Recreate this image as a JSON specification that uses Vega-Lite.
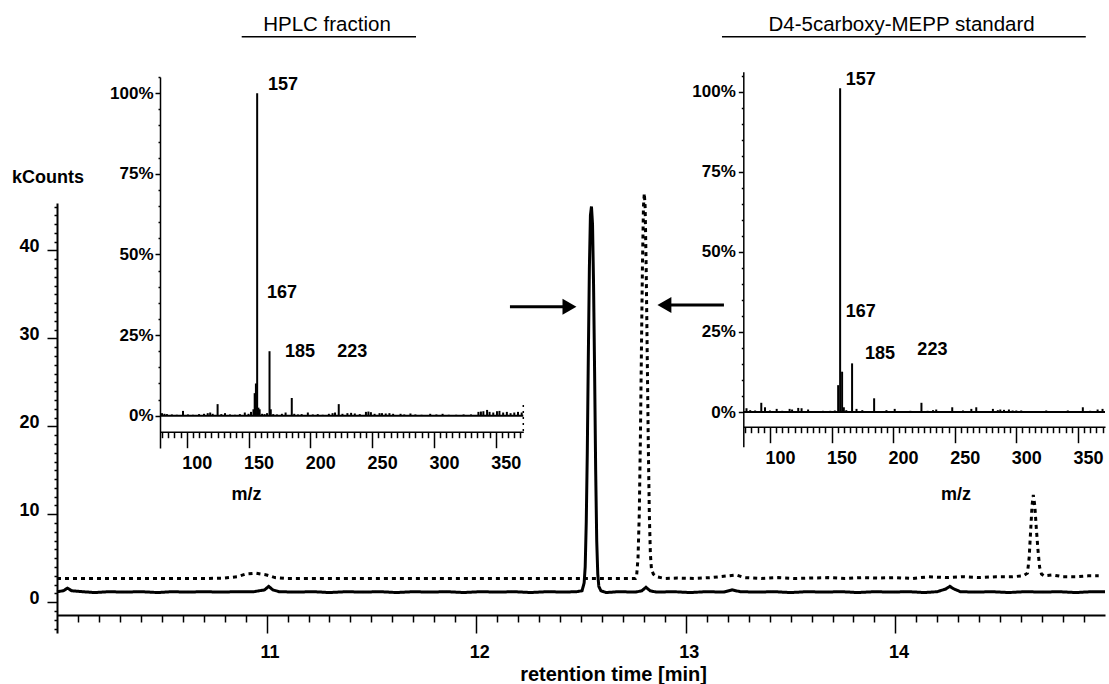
{
  "$schema": "https://vega.github.io/schema/vega-lite/v6.json",
  "width": 1048,
  "height": 615,
  "autosize": {"type": "none"},
  "padding": {"left": 57, "top": 0, "right": 4, "bottom": 69},
  "background": "white",
  "config": {
    "view": {"stroke": null},
    "font": "Liberation Sans",
    "axis": {
      "grid": false,
      "domainColor": "black",
      "tickColor": "black",
      "labelColor": "black",
      "titleColor": "black",
      "labelFont": "Liberation Sans",
      "titleFont": "Liberation Sans",
      "labelFontWeight": "bold",
      "titleFontWeight": "bold",
      "labelFontSize": 18,
      "titleFontSize": 18,
      "domainWidth": 1.5,
      "tickWidth": 1.5,
      "labelOverlap": false,
      "labelFlush": false,
      "labelBound": false
    }
  },
  "datasets": {
    "chrom": [
      {"series": "HPLC fraction", "rt": 10.00, "kc": 1.2},
      {"series": "HPLC fraction", "rt": 10.03, "kc": 1.3},
      {"series": "HPLC fraction", "rt": 10.05, "kc": 1.6},
      {"series": "HPLC fraction", "rt": 10.07, "kc": 1.3},
      {"series": "HPLC fraction", "rt": 10.12, "kc": 1.2},
      {"series": "HPLC fraction", "rt": 10.18, "kc": 1.1},
      {"series": "HPLC fraction", "rt": 10.25, "kc": 1.2},
      {"series": "HPLC fraction", "rt": 10.32, "kc": 1.15},
      {"series": "HPLC fraction", "rt": 10.40, "kc": 1.2},
      {"series": "HPLC fraction", "rt": 10.48, "kc": 1.1},
      {"series": "HPLC fraction", "rt": 10.55, "kc": 1.2},
      {"series": "HPLC fraction", "rt": 10.62, "kc": 1.15},
      {"series": "HPLC fraction", "rt": 10.70, "kc": 1.2},
      {"series": "HPLC fraction", "rt": 10.78, "kc": 1.15},
      {"series": "HPLC fraction", "rt": 10.86, "kc": 1.2},
      {"series": "HPLC fraction", "rt": 10.94, "kc": 1.2},
      {"series": "HPLC fraction", "rt": 10.99, "kc": 1.4},
      {"series": "HPLC fraction", "rt": 11.01, "kc": 1.8},
      {"series": "HPLC fraction", "rt": 11.03, "kc": 1.4},
      {"series": "HPLC fraction", "rt": 11.06, "kc": 1.2},
      {"series": "HPLC fraction", "rt": 11.14, "kc": 1.15},
      {"series": "HPLC fraction", "rt": 11.22, "kc": 1.2},
      {"series": "HPLC fraction", "rt": 11.30, "kc": 1.1},
      {"series": "HPLC fraction", "rt": 11.38, "kc": 1.2},
      {"series": "HPLC fraction", "rt": 11.46, "kc": 1.15},
      {"series": "HPLC fraction", "rt": 11.54, "kc": 1.2},
      {"series": "HPLC fraction", "rt": 11.62, "kc": 1.1},
      {"series": "HPLC fraction", "rt": 11.70, "kc": 1.2},
      {"series": "HPLC fraction", "rt": 11.78, "kc": 1.15},
      {"series": "HPLC fraction", "rt": 11.86, "kc": 1.2},
      {"series": "HPLC fraction", "rt": 11.94, "kc": 1.1},
      {"series": "HPLC fraction", "rt": 12.02, "kc": 1.2},
      {"series": "HPLC fraction", "rt": 12.10, "kc": 1.15},
      {"series": "HPLC fraction", "rt": 12.18, "kc": 1.2},
      {"series": "HPLC fraction", "rt": 12.26, "kc": 1.1},
      {"series": "HPLC fraction", "rt": 12.34, "kc": 1.2},
      {"series": "HPLC fraction", "rt": 12.42, "kc": 1.15},
      {"series": "HPLC fraction", "rt": 12.48, "kc": 1.2},
      {"series": "HPLC fraction", "rt": 12.505, "kc": 1.3},
      {"series": "HPLC fraction", "rt": 12.515, "kc": 2.2},
      {"series": "HPLC fraction", "rt": 12.52, "kc": 4},
      {"series": "HPLC fraction", "rt": 12.525, "kc": 9},
      {"series": "HPLC fraction", "rt": 12.53, "kc": 17},
      {"series": "HPLC fraction", "rt": 12.535, "kc": 28},
      {"series": "HPLC fraction", "rt": 12.54, "kc": 38},
      {"series": "HPLC fraction", "rt": 12.545, "kc": 44},
      {"series": "HPLC fraction", "rt": 12.55, "kc": 45},
      {"series": "HPLC fraction", "rt": 12.555, "kc": 43},
      {"series": "HPLC fraction", "rt": 12.56, "kc": 36},
      {"series": "HPLC fraction", "rt": 12.565, "kc": 26},
      {"series": "HPLC fraction", "rt": 12.57, "kc": 15},
      {"series": "HPLC fraction", "rt": 12.575, "kc": 7},
      {"series": "HPLC fraction", "rt": 12.58, "kc": 3.2},
      {"series": "HPLC fraction", "rt": 12.585, "kc": 1.8},
      {"series": "HPLC fraction", "rt": 12.595, "kc": 1.3},
      {"series": "HPLC fraction", "rt": 12.62, "kc": 1.1},
      {"series": "HPLC fraction", "rt": 12.68, "kc": 1.2},
      {"series": "HPLC fraction", "rt": 12.76, "kc": 1.15},
      {"series": "HPLC fraction", "rt": 12.79, "kc": 1.3},
      {"series": "HPLC fraction", "rt": 12.81, "kc": 1.7},
      {"series": "HPLC fraction", "rt": 12.83, "kc": 1.3},
      {"series": "HPLC fraction", "rt": 12.86, "kc": 1.15},
      {"series": "HPLC fraction", "rt": 12.94, "kc": 1.2},
      {"series": "HPLC fraction", "rt": 13.02, "kc": 1.1},
      {"series": "HPLC fraction", "rt": 13.10, "kc": 1.2},
      {"series": "HPLC fraction", "rt": 13.18, "kc": 1.15},
      {"series": "HPLC fraction", "rt": 13.22, "kc": 1.4},
      {"series": "HPLC fraction", "rt": 13.26, "kc": 1.2},
      {"series": "HPLC fraction", "rt": 13.34, "kc": 1.15},
      {"series": "HPLC fraction", "rt": 13.42, "kc": 1.2},
      {"series": "HPLC fraction", "rt": 13.50, "kc": 1.1},
      {"series": "HPLC fraction", "rt": 13.58, "kc": 1.2},
      {"series": "HPLC fraction", "rt": 13.66, "kc": 1.15},
      {"series": "HPLC fraction", "rt": 13.74, "kc": 1.2},
      {"series": "HPLC fraction", "rt": 13.82, "kc": 1.1},
      {"series": "HPLC fraction", "rt": 13.90, "kc": 1.2},
      {"series": "HPLC fraction", "rt": 13.98, "kc": 1.15},
      {"series": "HPLC fraction", "rt": 14.06, "kc": 1.2},
      {"series": "HPLC fraction", "rt": 14.14, "kc": 1.1},
      {"series": "HPLC fraction", "rt": 14.20, "kc": 1.2},
      {"series": "HPLC fraction", "rt": 14.24, "kc": 1.5},
      {"series": "HPLC fraction", "rt": 14.26, "kc": 1.8},
      {"series": "HPLC fraction", "rt": 14.28, "kc": 1.5},
      {"series": "HPLC fraction", "rt": 14.31, "kc": 1.2},
      {"series": "HPLC fraction", "rt": 14.38, "kc": 1.15},
      {"series": "HPLC fraction", "rt": 14.46, "kc": 1.2},
      {"series": "HPLC fraction", "rt": 14.54, "kc": 1.1},
      {"series": "HPLC fraction", "rt": 14.62, "kc": 1.2},
      {"series": "HPLC fraction", "rt": 14.70, "kc": 1.15},
      {"series": "HPLC fraction", "rt": 14.78, "kc": 1.2},
      {"series": "HPLC fraction", "rt": 14.86, "kc": 1.1},
      {"series": "HPLC fraction", "rt": 14.94, "kc": 1.2},
      {"series": "HPLC fraction", "rt": 15.00, "kc": 1.2},
      {"series": "D4-5carboxy-MEPP standard", "rt": 10.00, "kc": 2.7},
      {"series": "D4-5carboxy-MEPP standard", "rt": 10.08, "kc": 2.7},
      {"series": "D4-5carboxy-MEPP standard", "rt": 10.16, "kc": 2.7},
      {"series": "D4-5carboxy-MEPP standard", "rt": 10.24, "kc": 2.7},
      {"series": "D4-5carboxy-MEPP standard", "rt": 10.32, "kc": 2.7},
      {"series": "D4-5carboxy-MEPP standard", "rt": 10.40, "kc": 2.7},
      {"series": "D4-5carboxy-MEPP standard", "rt": 10.48, "kc": 2.7},
      {"series": "D4-5carboxy-MEPP standard", "rt": 10.56, "kc": 2.7},
      {"series": "D4-5carboxy-MEPP standard", "rt": 10.64, "kc": 2.7},
      {"series": "D4-5carboxy-MEPP standard", "rt": 10.72, "kc": 2.7},
      {"series": "D4-5carboxy-MEPP standard", "rt": 10.80, "kc": 2.75},
      {"series": "D4-5carboxy-MEPP standard", "rt": 10.86, "kc": 2.9},
      {"series": "D4-5carboxy-MEPP standard", "rt": 10.90, "kc": 3.2},
      {"series": "D4-5carboxy-MEPP standard", "rt": 10.95, "kc": 3.3},
      {"series": "D4-5carboxy-MEPP standard", "rt": 11.00, "kc": 3.1},
      {"series": "D4-5carboxy-MEPP standard", "rt": 11.04, "kc": 2.8},
      {"series": "D4-5carboxy-MEPP standard", "rt": 11.10, "kc": 2.7},
      {"series": "D4-5carboxy-MEPP standard", "rt": 11.20, "kc": 2.7},
      {"series": "D4-5carboxy-MEPP standard", "rt": 11.30, "kc": 2.7},
      {"series": "D4-5carboxy-MEPP standard", "rt": 11.40, "kc": 2.7},
      {"series": "D4-5carboxy-MEPP standard", "rt": 11.50, "kc": 2.7},
      {"series": "D4-5carboxy-MEPP standard", "rt": 11.60, "kc": 2.7},
      {"series": "D4-5carboxy-MEPP standard", "rt": 11.70, "kc": 2.7},
      {"series": "D4-5carboxy-MEPP standard", "rt": 11.80, "kc": 2.7},
      {"series": "D4-5carboxy-MEPP standard", "rt": 11.90, "kc": 2.7},
      {"series": "D4-5carboxy-MEPP standard", "rt": 12.00, "kc": 2.7},
      {"series": "D4-5carboxy-MEPP standard", "rt": 12.10, "kc": 2.7},
      {"series": "D4-5carboxy-MEPP standard", "rt": 12.20, "kc": 2.7},
      {"series": "D4-5carboxy-MEPP standard", "rt": 12.30, "kc": 2.7},
      {"series": "D4-5carboxy-MEPP standard", "rt": 12.40, "kc": 2.7},
      {"series": "D4-5carboxy-MEPP standard", "rt": 12.50, "kc": 2.7},
      {"series": "D4-5carboxy-MEPP standard", "rt": 12.60, "kc": 2.7},
      {"series": "D4-5carboxy-MEPP standard", "rt": 12.70, "kc": 2.7},
      {"series": "D4-5carboxy-MEPP standard", "rt": 12.76, "kc": 2.7},
      {"series": "D4-5carboxy-MEPP standard", "rt": 12.765, "kc": 2.9},
      {"series": "D4-5carboxy-MEPP standard", "rt": 12.772, "kc": 5},
      {"series": "D4-5carboxy-MEPP standard", "rt": 12.778, "kc": 10},
      {"series": "D4-5carboxy-MEPP standard", "rt": 12.783, "kc": 18},
      {"series": "D4-5carboxy-MEPP standard", "rt": 12.788, "kc": 28},
      {"series": "D4-5carboxy-MEPP standard", "rt": 12.793, "kc": 38},
      {"series": "D4-5carboxy-MEPP standard", "rt": 12.798, "kc": 45},
      {"series": "D4-5carboxy-MEPP standard", "rt": 12.802, "kc": 46.5},
      {"series": "D4-5carboxy-MEPP standard", "rt": 12.806, "kc": 45},
      {"series": "D4-5carboxy-MEPP standard", "rt": 12.811, "kc": 38},
      {"series": "D4-5carboxy-MEPP standard", "rt": 12.816, "kc": 28},
      {"series": "D4-5carboxy-MEPP standard", "rt": 12.821, "kc": 18},
      {"series": "D4-5carboxy-MEPP standard", "rt": 12.826, "kc": 10},
      {"series": "D4-5carboxy-MEPP standard", "rt": 12.831, "kc": 5.5},
      {"series": "D4-5carboxy-MEPP standard", "rt": 12.836, "kc": 3.8},
      {"series": "D4-5carboxy-MEPP standard", "rt": 12.845, "kc": 3.2},
      {"series": "D4-5carboxy-MEPP standard", "rt": 12.86, "kc": 2.9},
      {"series": "D4-5carboxy-MEPP standard", "rt": 12.90, "kc": 2.7},
      {"series": "D4-5carboxy-MEPP standard", "rt": 12.96, "kc": 2.75},
      {"series": "D4-5carboxy-MEPP standard", "rt": 13.04, "kc": 2.7},
      {"series": "D4-5carboxy-MEPP standard", "rt": 13.12, "kc": 2.8},
      {"series": "D4-5carboxy-MEPP standard", "rt": 13.20, "kc": 3.0},
      {"series": "D4-5carboxy-MEPP standard", "rt": 13.24, "kc": 3.1},
      {"series": "D4-5carboxy-MEPP standard", "rt": 13.28, "kc": 2.8},
      {"series": "D4-5carboxy-MEPP standard", "rt": 13.36, "kc": 2.7},
      {"series": "D4-5carboxy-MEPP standard", "rt": 13.44, "kc": 2.8},
      {"series": "D4-5carboxy-MEPP standard", "rt": 13.52, "kc": 2.7},
      {"series": "D4-5carboxy-MEPP standard", "rt": 13.60, "kc": 2.75},
      {"series": "D4-5carboxy-MEPP standard", "rt": 13.68, "kc": 2.8},
      {"series": "D4-5carboxy-MEPP standard", "rt": 13.76, "kc": 2.7},
      {"series": "D4-5carboxy-MEPP standard", "rt": 13.84, "kc": 2.8},
      {"series": "D4-5carboxy-MEPP standard", "rt": 13.92, "kc": 2.75},
      {"series": "D4-5carboxy-MEPP standard", "rt": 14.00, "kc": 2.8},
      {"series": "D4-5carboxy-MEPP standard", "rt": 14.08, "kc": 2.7},
      {"series": "D4-5carboxy-MEPP standard", "rt": 14.16, "kc": 2.9},
      {"series": "D4-5carboxy-MEPP standard", "rt": 14.24, "kc": 2.8},
      {"series": "D4-5carboxy-MEPP standard", "rt": 14.32, "kc": 2.9},
      {"series": "D4-5carboxy-MEPP standard", "rt": 14.40, "kc": 2.8},
      {"series": "D4-5carboxy-MEPP standard", "rt": 14.48, "kc": 2.9},
      {"series": "D4-5carboxy-MEPP standard", "rt": 14.56, "kc": 2.9},
      {"series": "D4-5carboxy-MEPP standard", "rt": 14.61, "kc": 3.0},
      {"series": "D4-5carboxy-MEPP standard", "rt": 14.630, "kc": 3.3},
      {"series": "D4-5carboxy-MEPP standard", "rt": 14.638, "kc": 5},
      {"series": "D4-5carboxy-MEPP standard", "rt": 14.645, "kc": 8},
      {"series": "D4-5carboxy-MEPP standard", "rt": 14.652, "kc": 11},
      {"series": "D4-5carboxy-MEPP standard", "rt": 14.658, "kc": 12.2},
      {"series": "D4-5carboxy-MEPP standard", "rt": 14.665, "kc": 11},
      {"series": "D4-5carboxy-MEPP standard", "rt": 14.672, "kc": 8.5},
      {"series": "D4-5carboxy-MEPP standard", "rt": 14.68, "kc": 6},
      {"series": "D4-5carboxy-MEPP standard", "rt": 14.688, "kc": 4},
      {"series": "D4-5carboxy-MEPP standard", "rt": 14.697, "kc": 3.2},
      {"series": "D4-5carboxy-MEPP standard", "rt": 14.71, "kc": 3.0},
      {"series": "D4-5carboxy-MEPP standard", "rt": 14.75, "kc": 3.1},
      {"series": "D4-5carboxy-MEPP standard", "rt": 14.80, "kc": 2.9},
      {"series": "D4-5carboxy-MEPP standard", "rt": 14.86, "kc": 2.9},
      {"series": "D4-5carboxy-MEPP standard", "rt": 14.92, "kc": 3.0},
      {"series": "D4-5carboxy-MEPP standard", "rt": 14.97, "kc": 3.0}
    ],
    "arrows": [
      {"dir": "right", "rt": 12.161, "rt2": 12.44, "head": 12.445, "kc": 33.6},
      {"dir": "left", "rt": 12.9, "rt2": 13.182, "head": 12.898, "kc": 33.8}
    ],
    "spec1": [
      {"mz": 80, "pct": 0.8}, {"mz": 82, "pct": 0.6}, {"mz": 84, "pct": 0.5}, {"mz": 88, "pct": 0.4},
      {"mz": 92, "pct": 0.3}, {"mz": 97, "pct": 1.5}, {"mz": 101, "pct": 0.4}, {"mz": 105, "pct": 0.3},
      {"mz": 110, "pct": 0.5}, {"mz": 114, "pct": 0.6}, {"mz": 117, "pct": 0.8}, {"mz": 119, "pct": 1.0},
      {"mz": 121, "pct": 0.6}, {"mz": 125, "pct": 3.6}, {"mz": 128, "pct": 0.5}, {"mz": 131, "pct": 0.8},
      {"mz": 135, "pct": 0.4}, {"mz": 139, "pct": 0.3}, {"mz": 143, "pct": 0.5}, {"mz": 147, "pct": 1.0},
      {"mz": 150, "pct": 0.6}, {"mz": 152, "pct": 1.2}, {"mz": 154, "pct": 2.0}, {"mz": 155, "pct": 7.0},
      {"mz": 156, "pct": 10.0}, {"mz": 157, "pct": 100}, {"mz": 158, "pct": 2.5}, {"mz": 159, "pct": 2.0},
      {"mz": 161, "pct": 0.6}, {"mz": 163, "pct": 0.5}, {"mz": 165, "pct": 0.8}, {"mz": 167, "pct": 20},
      {"mz": 168, "pct": 2.0}, {"mz": 170, "pct": 0.5}, {"mz": 173, "pct": 0.4}, {"mz": 177, "pct": 0.6},
      {"mz": 180, "pct": 1.0}, {"mz": 185, "pct": 5.5}, {"mz": 187, "pct": 0.6}, {"mz": 190, "pct": 0.4},
      {"mz": 193, "pct": 0.5}, {"mz": 198, "pct": 1.0}, {"mz": 202, "pct": 0.4}, {"mz": 206, "pct": 0.5},
      {"mz": 210, "pct": 0.3}, {"mz": 215, "pct": 0.6}, {"mz": 218, "pct": 0.8}, {"mz": 220, "pct": 1.0},
      {"mz": 223, "pct": 3.6}, {"mz": 226, "pct": 0.6}, {"mz": 230, "pct": 0.8}, {"mz": 233, "pct": 0.9},
      {"mz": 236, "pct": 0.7}, {"mz": 240, "pct": 0.5}, {"mz": 245, "pct": 1.2}, {"mz": 247, "pct": 1.3},
      {"mz": 249, "pct": 1.1}, {"mz": 252, "pct": 0.6}, {"mz": 256, "pct": 0.8}, {"mz": 258, "pct": 0.8},
      {"mz": 261, "pct": 0.7}, {"mz": 264, "pct": 0.8}, {"mz": 267, "pct": 0.6}, {"mz": 273, "pct": 0.6},
      {"mz": 276, "pct": 0.4}, {"mz": 281, "pct": 0.7}, {"mz": 285, "pct": 0.4}, {"mz": 290, "pct": 0.3},
      {"mz": 297, "pct": 0.6}, {"mz": 302, "pct": 0.4}, {"mz": 307, "pct": 0.6}, {"mz": 312, "pct": 0.3},
      {"mz": 318, "pct": 0.3}, {"mz": 324, "pct": 0.4}, {"mz": 330, "pct": 0.4}, {"mz": 336, "pct": 1.2},
      {"mz": 338, "pct": 1.3}, {"mz": 340, "pct": 1.4}, {"mz": 343, "pct": 1.8}, {"mz": 345, "pct": 1.2},
      {"mz": 348, "pct": 1.0}, {"mz": 351, "pct": 1.4}, {"mz": 353, "pct": 1.5}, {"mz": 356, "pct": 1.0},
      {"mz": 359, "pct": 1.2}, {"mz": 362, "pct": 0.8}, {"mz": 365, "pct": 1.0}, {"mz": 368, "pct": 1.2},
      {"mz": 371, "pct": 1.0}
    ],
    "spec2": [
      {"mz": 81, "pct": 1.2}, {"mz": 84, "pct": 0.6}, {"mz": 88, "pct": 0.5}, {"mz": 93, "pct": 2.9},
      {"mz": 96, "pct": 1.5}, {"mz": 100, "pct": 0.5}, {"mz": 105.5, "pct": 1.0}, {"mz": 110, "pct": 0.4},
      {"mz": 116, "pct": 1.0}, {"mz": 118, "pct": 0.8}, {"mz": 123, "pct": 1.3}, {"mz": 125.7, "pct": 1.2},
      {"mz": 131, "pct": 0.8}, {"mz": 137, "pct": 0.3}, {"mz": 143, "pct": 0.4}, {"mz": 149, "pct": 0.4},
      {"mz": 152.7, "pct": 0.5}, {"mz": 155.4, "pct": 8.4}, {"mz": 157, "pct": 101}, {"mz": 158.6, "pct": 12.6},
      {"mz": 160, "pct": 1.5}, {"mz": 162, "pct": 0.6}, {"mz": 166.7, "pct": 15.2}, {"mz": 170.3, "pct": 1.0},
      {"mz": 175, "pct": 0.6}, {"mz": 184.6, "pct": 4.3}, {"mz": 190, "pct": 0.3}, {"mz": 194.6, "pct": 0.6},
      {"mz": 201.3, "pct": 1.0}, {"mz": 207, "pct": 0.3}, {"mz": 214, "pct": 0.4}, {"mz": 223, "pct": 2.9},
      {"mz": 228, "pct": 0.4}, {"mz": 232.4, "pct": 0.6}, {"mz": 235, "pct": 0.8}, {"mz": 241, "pct": 0.3},
      {"mz": 248, "pct": 1.5}, {"mz": 252, "pct": 0.3}, {"mz": 256.7, "pct": 0.5}, {"mz": 263.5, "pct": 1.0},
      {"mz": 267.5, "pct": 1.5}, {"mz": 274, "pct": 0.3}, {"mz": 281, "pct": 1.0}, {"mz": 285, "pct": 0.6},
      {"mz": 287, "pct": 0.8}, {"mz": 290, "pct": 0.7}, {"mz": 294, "pct": 0.8}, {"mz": 297, "pct": 0.5},
      {"mz": 300, "pct": 0.5}, {"mz": 304, "pct": 0.5}, {"mz": 310, "pct": 0.3}, {"mz": 317, "pct": 0.3},
      {"mz": 324.3, "pct": 0.5}, {"mz": 333, "pct": 0.3}, {"mz": 341.8, "pct": 0.5}, {"mz": 348, "pct": 0.3},
      {"mz": 354, "pct": 1.5}, {"mz": 360, "pct": 0.4}, {"mz": 366, "pct": 0.8}, {"mz": 370, "pct": 1.0}
    ],
    "labels1": [
      {"label": "157", "mz": 165.8, "pct": 102.5},
      {"label": "167", "mz": 165.0, "pct": 38.0},
      {"label": "185", "mz": 179.6, "pct": 19.8},
      {"label": "223", "mz": 221.7, "pct": 19.8}
    ],
    "labels2": [
      {"label": "157", "mz": 161.6, "pct": 103.6},
      {"label": "167", "mz": 161.6, "pct": 31.3},
      {"label": "185", "mz": 177.2, "pct": 18.1},
      {"label": "223", "mz": 219.7, "pct": 19.4}
    ],
    "title1": [{"label": "HPLC fraction", "mz": 213.5, "mz2": 144.5, "mz3": 285.5, "pct": 119.2, "pct2": 117.5}],
    "title2": [{"label": "D4-5carboxy-MEPP standard", "mz": 206.9, "mz2": 61.1, "mz3": 356.4, "pct": 118.9, "pct2": 117.1}],
    "base1": [{"mz": 78.4, "mz2": 372.3, "pct": 0}],
    "base2": [{"mz": 78.4, "mz2": 372.0, "pct": 0}],
    "edge1": [{"mz": 372.3, "pct": 3.3, "pct2": -5}]
  },
  "layer": [
    {
      "layer": [
        {
          "data": {"name": "chrom"},
          "mark": {"type": "line", "color": "black", "strokeWidth": 3, "strokeCap": "butt"},
          "encoding": {
            "x": {
              "field": "rt", "type": "quantitative",
              "scale": {"domain": [10, 15], "nice": false, "zero": false},
              "axis": {
                "orient": "bottom",
                "values": [10.1,10.2,10.3,10.4,10.5,10.6,10.7,10.8,10.9,11,11.1,11.2,11.3,11.4,11.5,11.6,11.7,11.8,11.9,12,12.1,12.2,12.3,12.4,12.5,12.6,12.7,12.8,12.9,13,13.1,13.2,13.3,13.4,13.5,13.6,13.7,13.8,13.9,14,14.1,14.2,14.3,14.4,14.5,14.6,14.7,14.8,14.9],
                "tickCount": 1000,
                "tickMinStep": 0.01,
                "tickSize": {"condition": {"test": "datum.value % 1 === 0", "value": 18}, "value": 7},
                "labelExpr": "datum.value % 1 === 0 ? format(datum.value, 'd') : ''",
                "labelOverlap": false,
                "labelPadding": 10,
                "labelOffset": 3,
                "domainWidth": 2,
                "title": "retention time [min]",
                "titleX": 556,
                "titleY": 65,
                "titleAlign": "center",
                "titleBaseline": "alphabetic",
                "titleFontSize": 20
              }
            },
            "y": {
              "field": "kc", "type": "quantitative",
              "scale": {"domain": [-3.5, 45.4], "range": [633, 203], "nice": false, "zero": false},
              "axis": {
                "orient": "left",
                "values": [-3,-2,-1,0,1,2,3,4,5,6,7,8,9,10,11,12,13,14,15,16,17,18,19,20,21,22,23,24,25,26,27,28,29,30,31,32,33,34,35,36,37,38,39,40,41,42,43,44,45],
                "tickCount": 1000,
                "format": "d",
                "tickSize": {"condition": {"test": "datum.value % 10 === 0", "value": 10}, "value": 3},
                "labelExpr": "datum.value % 10 === 0 ? datum.label : ''",
                "labelOverlap": false,
                "labelPadding": 8,
                "labelOffset": -4,
                "domainWidth": 2,
                "title": "kCounts",
                "titleAngle": 0,
                "titleX": -9.5,
                "titleY": 177,
                "titleAlign": "center",
                "titleBaseline": "middle"
              }
            },
            "strokeDash": {
              "field": "series", "type": "nominal",
              "scale": {"domain": ["HPLC fraction", "D4-5carboxy-MEPP standard"], "range": [[1, 0], [4, 4]]},
              "legend": null
            }
          }
        },
        {
          "data": {"name": "arrows"},
          "mark": {"type": "rule", "color": "black", "strokeWidth": 3},
          "encoding": {
            "x": {"field": "rt", "type": "quantitative"},
            "x2": {"field": "rt2"},
            "y": {"field": "kc", "type": "quantitative"}
          }
        },
        {
          "data": {"name": "arrows"},
          "mark": {"type": "point", "filled": true, "color": "black", "opacity": 1, "size": 260},
          "encoding": {
            "x": {"field": "head", "type": "quantitative"},
            "y": {"field": "kc", "type": "quantitative"},
            "shape": {
              "field": "dir", "type": "nominal",
              "scale": {"domain": ["right", "left"], "range": ["triangle-right", "triangle-left"]},
              "legend": null
            }
          }
        }
      ]
    },
    {
      "layer": [
        {
          "data": {"name": "spec1"},
          "mark": {"type": "rule", "color": "black", "strokeWidth": 2},
          "encoding": {
            "x": {
              "field": "mz", "type": "quantitative",
              "scale": {"domain": [78.4, 372.3], "range": [103, 466.3], "nice": false, "zero": false},
              "axis": {
                "orient": "bottom",
                "offset": -183.3,
                "values": [80,85,90,95,100,105,110,115,120,125,130,135,140,145,150,155,160,165,170,175,180,185,190,195,200,205,210,215,220,225,230,235,240,245,250,255,260,265,270,275,280,285,290,295,300,305,310,315,320,325,330,335,340,345,350,355,360,365,370],
                "tickCount": 1000,
                "format": "d",
                "tickSize": {"condition": {"test": "datum.value % 50 === 0", "value": 16}, "value": 6},
                "labelExpr": "datum.value % 50 === 0 ? datum.label : ''",
                "labelOverlap": false,
                "labelPadding": 7,
                "labelOffset": 10,
                "title": "m/z",
                "titleX": 189,
                "titleY": 68,
                "titleAlign": "center",
                "titleBaseline": "alphabetic"
              }
            },
            "y": {
              "field": "pct", "type": "quantitative",
              "scale": {"domain": [-10, 105], "range": [448, 77], "nice": false, "zero": false},
              "axis": {
                "orient": "left",
                "offset": -103,
                "values": [0,5,10,15,20,25,30,35,40,45,50,55,60,65,70,75,80,85,90,95,100,105],
                "tickCount": 1000,
                "format": "d",
                "tickSize": {"condition": {"test": "datum.value % 25 === 0", "value": 5}, "value": 2},
                "labelExpr": "datum.value % 25 === 0 ? datum.label + '%' : ''",
                "labelOverlap": false,
                "labelFontSize": 17,
                "labelPadding": 2,
                "title": null
              }
            },
            "y2": {"datum": 0}
          }
        },
        {
          "data": {"name": "base1"},
          "mark": {"type": "rule", "color": "black", "strokeWidth": 2},
          "encoding": {
            "x": {"field": "mz", "type": "quantitative"},
            "x2": {"field": "mz2"},
            "y": {"field": "pct", "type": "quantitative"}
          }
        },
        {
          "data": {"name": "edge1"},
          "mark": {"type": "rule", "color": "black", "strokeWidth": 1.5, "strokeDash": [2, 4]},
          "encoding": {
            "x": {"field": "mz", "type": "quantitative"},
            "y": {"field": "pct", "type": "quantitative"},
            "y2": {"field": "pct2"}
          }
        },
        {
          "data": {"name": "labels1"},
          "mark": {"type": "text", "align": "left", "baseline": "middle", "fontSize": 18, "fontWeight": "bold", "font": "Liberation Sans", "color": "black"},
          "encoding": {
            "x": {"field": "mz", "type": "quantitative"},
            "y": {"field": "pct", "type": "quantitative"},
            "text": {"field": "label"}
          }
        },
        {
          "data": {"name": "title1"},
          "mark": {"type": "text", "align": "center", "baseline": "alphabetic", "fontSize": 20.5, "font": "Liberation Sans", "color": "black"},
          "encoding": {
            "x": {"field": "mz", "type": "quantitative"},
            "y": {"field": "pct", "type": "quantitative"},
            "text": {"field": "label"}
          }
        },
        {
          "data": {"name": "title1"},
          "mark": {"type": "rule", "color": "black", "strokeWidth": 1.5},
          "encoding": {
            "x": {"field": "mz2", "type": "quantitative"},
            "x2": {"field": "mz3"},
            "y": {"field": "pct2", "type": "quantitative"}
          }
        }
      ]
    },
    {
      "layer": [
        {
          "data": {"name": "spec2"},
          "mark": {"type": "rule", "color": "black", "strokeWidth": 2},
          "encoding": {
            "x": {
              "field": "mz", "type": "quantitative",
              "scale": {"domain": [78.4, 372.0], "range": [686.3, 1048], "nice": false, "zero": false},
              "axis": {
                "orient": "bottom",
                "offset": -188.3,
                "values": [80,85,90,95,100,105,110,115,120,125,130,135,140,145,150,155,160,165,170,175,180,185,190,195,200,205,210,215,220,225,230,235,240,245,250,255,260,265,270,275,280,285,290,295,300,305,310,315,320,325,330,335,340,345,350,355,360,365,370],
                "tickCount": 1000,
                "format": "d",
                "tickSize": {"condition": {"test": "datum.value % 50 === 0", "value": 16}, "value": 6},
                "labelExpr": "datum.value % 50 === 0 ? datum.label : ''",
                "labelOverlap": false,
                "labelPadding": 7,
                "labelOffset": 10,
                "title": "m/z",
                "titleX": 898.5,
                "titleY": 73,
                "titleAlign": "center",
                "titleBaseline": "alphabetic"
              }
            },
            "y": {
              "field": "pct", "type": "quantitative",
              "scale": {"domain": [-10.8, 106.2], "range": [446.7, 71.7], "nice": false, "zero": false},
              "axis": {
                "orient": "left",
                "offset": -686.3,
                "values": [0,5,10,15,20,25,30,35,40,45,50,55,60,65,70,75,80,85,90,95,100,105],
                "tickCount": 1000,
                "format": "d",
                "tickSize": {"condition": {"test": "datum.value % 25 === 0", "value": 5}, "value": 2},
                "labelExpr": "datum.value % 25 === 0 ? datum.label + '%' : ''",
                "labelOverlap": false,
                "labelFontSize": 17,
                "labelPadding": 3,
                "title": null
              }
            },
            "y2": {"datum": 0}
          }
        },
        {
          "data": {"name": "base2"},
          "mark": {"type": "rule", "color": "black", "strokeWidth": 2},
          "encoding": {
            "x": {"field": "mz", "type": "quantitative"},
            "x2": {"field": "mz2"},
            "y": {"field": "pct", "type": "quantitative"}
          }
        },
        {
          "data": {"name": "labels2"},
          "mark": {"type": "text", "align": "left", "baseline": "middle", "fontSize": 18, "fontWeight": "bold", "font": "Liberation Sans", "color": "black"},
          "encoding": {
            "x": {"field": "mz", "type": "quantitative"},
            "y": {"field": "pct", "type": "quantitative"},
            "text": {"field": "label"}
          }
        },
        {
          "data": {"name": "title2"},
          "mark": {"type": "text", "align": "center", "baseline": "alphabetic", "fontSize": 20.5, "font": "Liberation Sans", "color": "black"},
          "encoding": {
            "x": {"field": "mz", "type": "quantitative"},
            "y": {"field": "pct", "type": "quantitative"},
            "text": {"field": "label"}
          }
        },
        {
          "data": {"name": "title2"},
          "mark": {"type": "rule", "color": "black", "strokeWidth": 1.5},
          "encoding": {
            "x": {"field": "mz2", "type": "quantitative"},
            "x2": {"field": "mz3"},
            "y": {"field": "pct2", "type": "quantitative"}
          }
        }
      ]
    }
  ],
  "resolve": {"scale": {"x": "independent", "y": "independent"}, "axis": {"x": "independent", "y": "independent"}}
}
